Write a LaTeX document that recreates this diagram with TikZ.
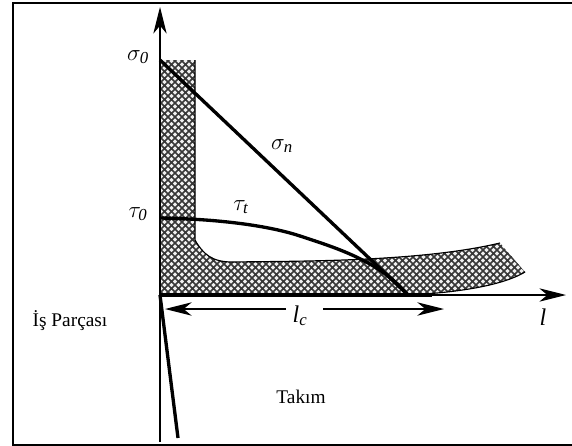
\documentclass[tikz,border=0pt]{standalone}
\usepackage{fontspec}
\setmainfont{Liberation Serif}
\usetikzlibrary{arrows.meta, patterns}
\definecolor{chipcolor}{HTML}{F0F0F0}
\definecolor{hatchcolor}{HTML}{383838}

\pgfdeclarepatternformonly{chiphatch}{\pgfqpoint{-0.5pt}{-0.5pt}}{\pgfqpoint{5.75pt}{5.75pt}}{\pgfqpoint{5.25pt}{5.25pt}}{
    \pgfsetlinewidth{1.15pt}
    \pgfpathmoveto{\pgfqpoint{-0.5pt}{-0.5pt}}
    \pgfpathlineto{\pgfqpoint{5.75pt}{5.75pt}}
    \pgfpathmoveto{\pgfqpoint{-0.5pt}{5.75pt}}
    \pgfpathlineto{\pgfqpoint{5.75pt}{-0.5pt}}
    \pgfusepath{stroke}
}

\begin{document}
\begin{tikzpicture}[
    x=0.75pt,
    y=-0.75pt,
    >={Stealth[length=20pt, width=10pt, inset=6pt]},
    thinline/.style={line width=0.85pt},
    thickline/.style={line width=2.5pt},
    lbl/.style={inner sep=0pt, font=\fontsize{18}{18}\selectfont},
    smalllbl/.style={inner sep=0pt, font=\fontsize{14.5}{16}\selectfont}
]
    \useasboundingbox (0,0) rectangle (572,446);

    % Frame, open on the right
    \draw[line width=1.5pt] (572,3) -- (12.5,3) -- (12.5,445) -- (572,445);

    % Points on the axes
    \coordinate (origin) at (160,295);
    \coordinate (ytop) at (160,7);
    \coordinate (ybottom) at (160,442);
    \coordinate (xend) at (566,295);
    \coordinate (sigmastart) at (160,60);
    \coordinate (taustart) at (160,218);
    \coordinate (contact) at (408,295);
    \coordinate (flankend) at (178,438);
    \coordinate (lcleft) at (165,309);
    \coordinate (lcright) at (444,309);
    \coordinate (lcgapleft) at (286,309);
    \coordinate (lcgapright) at (323,309);
    \coordinate (thickend) at (432,295);

    % Chip
    \fill[chipcolor] (sigmastart) -- (195,60) -- (195,240)
        .. controls (203,254) and (212,262) .. (232,262)
        .. controls (300,261) and (420,262) .. (500,243)
        -- (525,272) .. controls (500,287) and (450,293) .. (contact) -- (origin) -- cycle;
    \fill[pattern=chiphatch, pattern color=hatchcolor] (sigmastart) -- (195,60) -- (195,240)
        .. controls (203,254) and (212,262) .. (232,262)
        .. controls (300,261) and (420,262) .. (500,243)
        -- (525,272) .. controls (500,287) and (450,293) .. (contact) -- (origin) -- cycle;
    \draw[thinline] (195,60) -- (195,240)
        .. controls (203,254) and (212,262) .. (232,262)
        .. controls (300,261) and (420,262) .. (500,243);
    \draw[thinline] (525,272) .. controls (500,287) and (450,293) .. (contact);

    % Axes
    \draw[->, thinline] (ybottom) -- (ytop);
    \draw[->, thinline] (origin) -- (xend);
    \draw[thickline] (origin) -- (thickend);
    \draw[->, line width=1.1pt] (lcgapleft) -- (lcleft);
    \draw[->, line width=1.1pt] (lcgapright) -- (lcright);

    % Stress curves
    \draw[thickline] (sigmastart) -- (contact);
    \draw[thickline] (taustart) .. controls (220,219) and (270,226) .. (300,236)
        .. controls (340,249) and (380,262) .. (contact);

    % Tool flank
    \draw[thickline] (origin) -- (flankend);

    % Labels
    \node[lbl] (sigmazero) at (138,57) {$\sigma_{\mathit{0}}$};
    \node[lbl] (sigman) at (282,146) {$\sigma_{\mathit{n}}$};
    \node[lbl] (tauzero) at (138,214) {$\tau_{\mathit{0}}$};
    \node[lbl] (taut) at (241,207) {$\tau_{\mathit{t}}$};
    \node[lbl] (lc) at (300,316) {$\mathit{l}_{\mathit{c}}$};
    \node[lbl] (lname) at (543,317) {\textit{l}};
    \node[smalllbl] (workpiece) at (70,321) {İş Parçası};
    \node[smalllbl] (tool) at (301,397) {Takım};

\end{tikzpicture}
\end{document}
